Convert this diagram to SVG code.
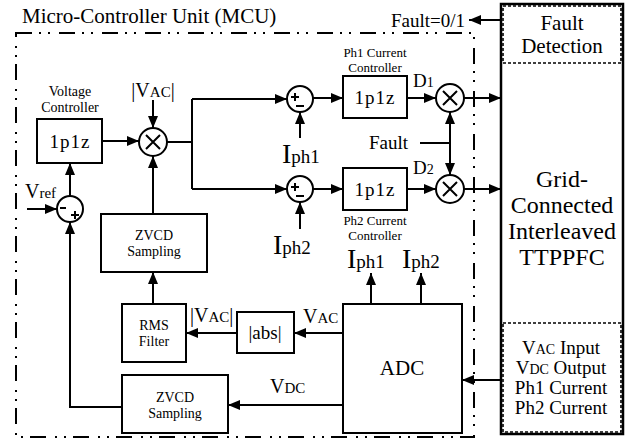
<svg xmlns="http://www.w3.org/2000/svg" width="642" height="440" viewBox="0 0 642 440" font-family="'Liberation Serif','Times New Roman',serif">
<defs>
<marker id="ah" viewBox="0 0 12 10" refX="12" refY="5" markerWidth="12" markerHeight="10" markerUnits="userSpaceOnUse" orient="auto">
<path d="M0,0 L12,5 L0,10 Z" fill="#000"/>
</marker>
</defs>
<style>
text{font-family:"Liberation Serif","Times New Roman",serif;fill:#000}
.blk{fill:#fff;stroke:#000;stroke-width:2}
.ln{fill:none;stroke:#000;stroke-width:2}
.ar{fill:none;stroke:#000;stroke-width:2;marker-end:url(#ah)}
.c{text-anchor:middle}
.mcu{fill:none;stroke:#000;stroke-width:2;stroke-dasharray:16 7 2 7 2 9}
.dash{fill:none;stroke:#000;stroke-width:1.6;stroke-dasharray:3 2}
</style>
<rect width="642" height="440" fill="#fff"/>

<text x="22" y="23" font-size="21">Micro-Controller Unit (MCU)</text>
<rect id="mcu" class="mcu" x="16" y="33" width="458" height="404"/>

<g id="plant">
<rect x="501" y="4" width="122" height="430" fill="none" stroke="#000" stroke-width="2.5"/>
<text class="c" font-size="24"><tspan x="562" y="187">Grid-</tspan><tspan x="562" y="213">Connected</tspan><tspan x="562" y="239">Interleaved</tspan><tspan x="562" y="265">TTPPFC</tspan></text>
</g>
<g id="fault-detection">
<rect class="dash" x="503" y="6" width="118" height="57"/>
<text class="c" font-size="21"><tspan x="562" y="30">Fault</tspan><tspan x="562" y="53">Detection</tspan></text>
</g>
<g id="sensors">
<rect class="dash" x="503" y="323" width="118" height="109"/>
<text class="c" font-size="19"><tspan x="561" y="354">V<tspan font-size="14">AC</tspan> Input</tspan><tspan x="561" y="374">V<tspan font-size="14">DC</tspan> Output</tspan><tspan x="561" y="394">Ph1 Current</tspan><tspan x="561" y="414">Ph2 Current</tspan></text>
</g>

<g id="voltage-controller">
<text class="c" font-size="14"><tspan x="70" y="96">Voltage</tspan><tspan x="70" y="112">Controller</tspan></text>
<rect class="blk" x="37" y="119" width="65" height="44"/>
<text class="c" x="70" y="148" font-size="19" letter-spacing="1">1p1z</text>
</g>
<g id="mult-vac">
<circle class="blk" cx="153" cy="142" r="14"/>
<path class="ln" d="M146,135 L160,149 M160,135 L146,149" stroke-width="1.5"/>
</g>
<g id="sum-v">
<circle class="blk" cx="70" cy="209" r="13"/>
<path class="ln" d="M60,208 h6" stroke-width="2.5"/>
<path class="ln" d="M71,215 h8 M75,211 v8" stroke-width="1"/>
</g>
<g id="sum-ph1">
<circle class="blk" cx="300" cy="99" r="13"/>
<path class="ln" d="M291,97 h8 M295,93 v8" stroke-width="1"/>
<path class="ln" d="M296,106 h8" stroke-width="2.5"/>
</g>
<g id="sum-ph2">
<circle class="blk" cx="300" cy="189" r="13"/>
<path class="ln" d="M291,187 h8 M295,183 v8" stroke-width="1"/>
<path class="ln" d="M296,196 h8" stroke-width="2.5"/>
</g>
<g id="ph1-controller">
<text class="c" font-size="13"><tspan x="375" y="57">Ph1 Current</tspan><tspan x="375" y="72">Controller</tspan></text>
<rect class="blk" x="343" y="76" width="64" height="42"/>
<text class="c" x="375" y="104" font-size="19" letter-spacing="1">1p1z</text>
</g>
<g id="ph2-controller">
<rect class="blk" x="343" y="168" width="64" height="42"/>
<text class="c" x="375" y="196" font-size="19" letter-spacing="1">1p1z</text>
<text class="c" font-size="13"><tspan x="375" y="225">Ph2 Current</tspan><tspan x="375" y="240">Controller</tspan></text>
</g>
<g id="mult-ph1">
<circle class="blk" cx="450" cy="98" r="14"/>
<path class="ln" d="M443,91 L457,105 M457,91 L443,105" stroke-width="1.5"/>
</g>
<g id="mult-ph2">
<circle class="blk" cx="450" cy="189" r="14"/>
<path class="ln" d="M443,182 L457,196 M457,182 L443,196" stroke-width="1.5"/>
</g>
<g id="zvcd-top">
<rect class="blk" x="101" y="214" width="106" height="58"/>
<text class="c" font-size="14"><tspan x="154" y="240">ZVCD</tspan><tspan x="154" y="256">Sampling</tspan></text>
</g>
<g id="rms-filter">
<rect class="blk" x="122" y="304" width="64" height="58"/>
<text class="c" font-size="14"><tspan x="154" y="330">RMS</tspan><tspan x="154" y="346">Filter</tspan></text>
</g>
<g id="abs">
<rect class="blk" x="237" y="312" width="57" height="41"/>
<text class="c" x="265" y="339" font-size="19">|abs|</text>
</g>
<g id="zvcd-bottom">
<rect class="blk" x="122" y="375" width="106" height="58"/>
<text class="c" font-size="14"><tspan x="175" y="402">ZVCD</tspan><tspan x="175" y="418">Sampling</tspan></text>
</g>
<g id="adc">
<rect class="blk" x="343" y="304" width="119" height="129"/>
<text class="c" x="402" y="375" font-size="21">ADC</text>
</g>

<g id="connectors">
<path class="ar" d="M102,141 L139,141"/>
<path class="ar" d="M153,100 L153,128"/>
<path class="ln" d="M167,142 H192 M192,99 V189"/>
<path class="ar" d="M192,99 L287,99"/>
<path class="ar" d="M192,189 L287,189"/>
<path class="ar" d="M313,98 L343,98"/>
<path class="ar" d="M313,189 L343,189"/>
<path class="ar" d="M300,138 L300,112"/>
<path class="ar" d="M300,229 L300,202"/>
<path class="ar" d="M407,98 L436,98"/>
<path class="ar" d="M407,189 L436,189"/>
<path class="ar" d="M464,98 L501,98"/>
<path class="ar" d="M464,189 L501,189"/>
<path class="ln" d="M420,143 H450"/>
<path class="ar" d="M450,143 L450,112"/>
<path class="ar" d="M450,143 L450,175"/>
<path class="ar" d="M501,20 L469,20"/>
<path class="ar" d="M27,209 L57,209"/>
<path class="ar" d="M70,196 L70,163"/>
<path class="ar" d="M122,407 H70 V222"/>
<path class="ar" d="M153,214 L153,156"/>
<path class="ar" d="M153,304 L153,272"/>
<path class="ar" d="M237,333 L186,333"/>
<path class="ar" d="M343,333 L294,333"/>
<path class="ar" d="M343,405 L228,405"/>
<path class="ar" d="M371,304 L371,273"/>
<path class="ar" d="M421,304 L421,273"/>
<path class="ar" d="M501,380 L462,380"/>
</g>

<g id="labels">
<text class="c" x="153" y="97" font-size="20">|V<tspan font-size="15">AC</tspan>|</text>
<text x="25" y="198" font-size="20">V<tspan font-size="15">ref</tspan></text>
<text x="282" y="163" font-size="28">I<tspan font-size="19">ph1</tspan></text>
<text x="273" y="254" font-size="28">I<tspan font-size="19">ph2</tspan></text>
<text x="347" y="268" font-size="28">I<tspan font-size="19">ph1</tspan></text>
<text x="402" y="268" font-size="28">I<tspan font-size="19">ph2</tspan></text>
<text x="413" y="87" font-size="19">D<tspan font-size="14">1</tspan></text>
<text x="413" y="174" font-size="19">D<tspan font-size="14">2</tspan></text>
<text x="369" y="149" font-size="19">Fault</text>
<text x="391" y="27" font-size="19">Fault=0/1</text>
<text x="190" y="322" font-size="20">|V<tspan font-size="15">AC</tspan>|</text>
<text x="303" y="323" font-size="20">V<tspan font-size="15">AC</tspan></text>
<text x="270" y="393" font-size="20">V<tspan font-size="15">DC</tspan></text>
</g>
</svg>
